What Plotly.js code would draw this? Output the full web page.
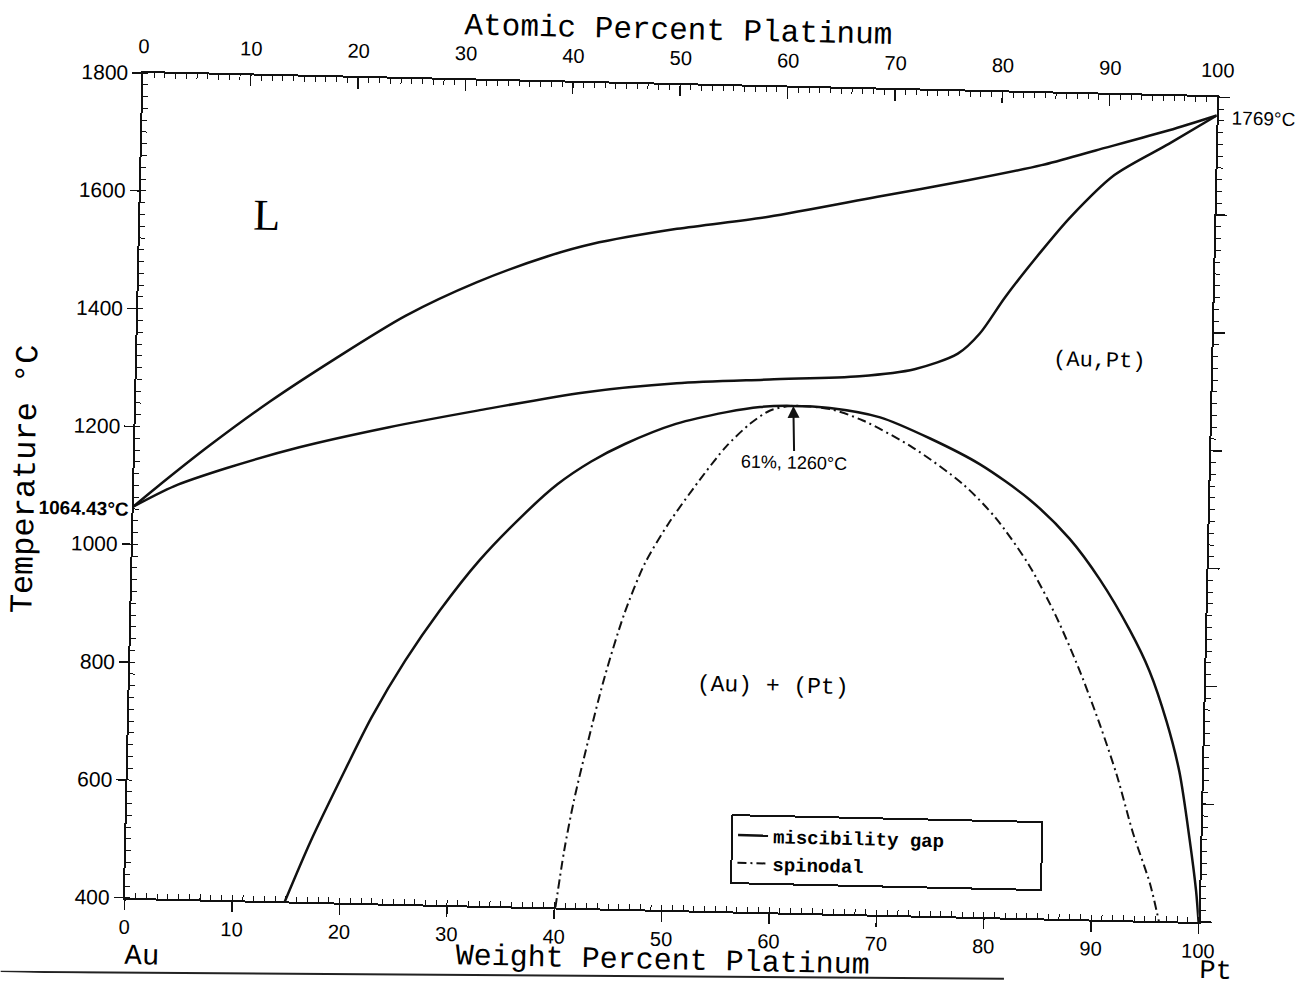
<!DOCTYPE html>
<html>
<head>
<meta charset="utf-8">
<script src="https://cdn.plot.ly/plotly-3.0.1.min.js"></script>
<style>
html,body{margin:0;padding:0;background:#fff;overflow:hidden;}
#chart{width:1307px;height:987px;transform-origin:671px 497px;transform:rotate(1.29deg);}
</style>
</head>
<body>
<div id="chart"></div>
<script>
// Au-Pt phase diagram, weight percent platinum vs temperature (°C)
const xRange = [0, 100];
const yRange = [400, 1800];

const liquidusWt = [0, 2.0, 6.9, 12.5, 18.4, 24.9, 31.5, 38.1, 42.1, 50.0, 58.5, 68.6, 77.1, 83.8, 88.8, 95.6, 100];
const liquidusT  = [1064.43, 1096, 1170, 1248, 1322, 1398, 1458, 1505, 1527, 1556, 1580, 1618, 1650, 1678, 1705, 1742, 1769];

const solidusWt = [0, 3.7, 8.6, 15.3, 23.5, 31.8, 41.7, 50.3, 58.9, 67.3, 72.4, 76.4, 78.4, 80.7, 84.0, 86.6, 90.6, 95.6, 100];
const solidusT  = [1064.43, 1100, 1133, 1171, 1208, 1240, 1275, 1294, 1304, 1313, 1327, 1355, 1390, 1453, 1533, 1591, 1664, 1719, 1769];

const gapWt = [14.9, 17.2, 20.2, 22.6, 25.6, 28.7, 32.3, 36.3, 39.4, 42.5, 45.6, 50.3, 55.0, 58.1, 61.0, 64.6, 69.3, 74.0, 78.7, 83.4, 87.2, 90.1, 93.0, 94.9, 96.6, 97.9, 99.0, 99.7, 100];
const gapT  = [400, 504, 624, 716, 813, 899, 986, 1065, 1118, 1158, 1189, 1225, 1247, 1257, 1260, 1258, 1244, 1210, 1168, 1110, 1045, 977, 892, 824, 739, 654, 539, 453, 400];

const spinodalWt = [40.1, 40.8, 41.6, 42.8, 44.2, 45.9, 47.7, 49.8, 52.6, 55.0, 57.2, 59.0, 61.0, 64.6, 67.7, 72.4, 77.2, 80.3, 83.5, 86.1, 88.4, 90.4, 92.1, 93.7, 95.4, 96.3];
const spinodalT  = [400, 497, 582, 684, 793, 901, 987, 1055, 1130, 1188, 1228, 1251, 1260, 1256, 1238, 1194, 1133, 1077, 998, 913, 822, 731, 645, 549, 463, 400];

const criticalPoint = {wt: 61.2, T: 1260, label: '61%, 1260°C'};
const auMelt = {T: 1064.43, label: '1064.43°C'};
const ptMelt = {T: 1769, label: '1769°C'};

const mono = 'Liberation Mono, Courier New, monospace';
const sans = 'Liberation Sans, Arial, sans-serif';
const ink = '#111';

const solid = {color: ink, width: 2.5, shape: 'spline', smoothing: 0.8};

const traces = [
  {x: liquidusWt, y: liquidusT, mode: 'lines', line: solid, name: 'liquidus', showlegend: false, hoverinfo: 'skip'},
  {x: solidusWt, y: solidusT, mode: 'lines', line: solid, name: 'solidus', showlegend: false, hoverinfo: 'skip'},
  {x: gapWt, y: gapT, mode: 'lines', line: solid, name: 'miscibility gap\u00a0\u00a0\u00a0\u00a0\u00a0\u00a0\u00a0\u00a0'},
  {x: spinodalWt, y: spinodalT, mode: 'lines', line: {color: ink, width: 2, shape: 'spline', smoothing: 0.8, dash: '9px,4px,2px,4px'}, name: 'spinodal'},
  {x: xRange, y: yRange, xaxis: 'x2', yaxis: 'y2', mode: 'markers', marker: {opacity: 0}, showlegend: false, hoverinfo: 'skip'}
];

const axisBase = {
  showline: true, linewidth: 2, linecolor: ink, showgrid: false, zeroline: false,
  tickcolor: ink, tickwidth: 1.5, fixedrange: true
};

function txt(xref, yref, x, y, text, font, extra) {
  return Object.assign({xref: xref, yref: yref, x: x, y: y, text: text, showarrow: false,
    xanchor: 'center', yanchor: 'middle', font: font}, extra || {});
}

const layout = {
  width: 1307, height: 987,
  margin: {l: 134, r: 99, t: 85, b: 77},
  paper_bgcolor: '#fff', plot_bgcolor: '#fff',
  showlegend: true,
  legend: {
    x: 0.563, xanchor: 'left', y: 0.118, yanchor: 'top',
    bgcolor: '#fff', bordercolor: ink, borderwidth: 2,
    font: {family: mono, size: 19, color: '#000', weight: 'bold'},
    tracegroupgap: 0
  },
  xaxis: Object.assign({}, axisBase, {
    range: xRange, tick0: 0, dtick: 10, ticks: 'outside', ticklen: 10,
    minor: {dtick: 1, ticks: 'inside', ticklen: 5, tickwidth: 1, tickcolor: ink},
    tickfont: {family: 'Liberation Sans Narrow, ' + sans, size: 20, color: '#000'}
  }),
  xaxis2: Object.assign({}, axisBase, {
    range: xRange, overlaying: 'x', side: 'top', anchor: 'y2',
    tick0: 0, dtick: 10, ticks: 'inside', ticklen: 11, ticklabelstandoff: 10,
    minor: {dtick: 1, ticks: 'inside', ticklen: 5, tickwidth: 1, tickcolor: ink},
    tickfont: {family: sans, size: 20, color: '#000'}
  }),
  yaxis: Object.assign({}, axisBase, {
    range: yRange, tick0: 400, dtick: 200, ticks: 'outside', ticklen: 9,
    minor: {dtick: 20, ticks: 'inside', ticklen: 5, tickwidth: 1, tickcolor: ink},
    tickfont: {family: sans, size: 21, color: '#000'}
  }),
  yaxis2: Object.assign({}, axisBase, {
    range: yRange, overlaying: 'y', side: 'right', anchor: 'x2',
    tick0: 400, dtick: 200, ticks: 'outside', ticklen: 11, showticklabels: false,
    minor: {dtick: 20, ticks: 'outside', ticklen: 5, tickwidth: 1, tickcolor: ink}
  }),
  annotations: [
    txt('paper', 'paper', 0.4976, 1.0663, 'Atomic Percent Platinum', {family: mono, size: 31, color: '#000'}),
    txt('paper', 'paper', 0.5014, -0.0615, 'Weight Percent Platinum', {family: mono, size: 30, color: '#000'}),
    txt('paper', 'paper', -0.101, 0.505, 'Temperature °C', {family: mono, size: 32, color: '#000'}, {textangle: -90}),
    txt('paper', 'paper', 0.0176, -0.071, 'Au', {family: mono, size: 29, color: '#000'}),
    txt('paper', 'paper', 1.017, -0.059, 'Pt', {family: mono, size: 27, color: '#000'}),
    txt('x', 'y', 11.8, 1563, 'L', {family: 'Liberation Serif, Times New Roman, serif', size: 44, color: '#000'}),
    txt('x', 'y', 89.6, 1347, '(Au,Pt)', {family: mono, size: 22, color: '#000'}),
    txt('x', 'y', 59.9, 783, '(Au) + (Pt)', {family: mono, size: 23, color: '#000'}),
    {xref: 'x', yref: 'y', x: criticalPoint.wt, y: criticalPoint.T, axref: 'x', ayref: 'y', ax: 61.4, ay: 1164,
     text: criticalPoint.label, showarrow: true, arrowhead: 2, arrowsize: 1.2, arrowwidth: 2, arrowcolor: ink, standoff: 0,
     font: {family: sans, size: 18, color: '#000'}},
    txt('paper', 'y', -0.003, 1060, auMelt.label, {family: sans, size: 19, color: '#000', weight: 'bold'}, {xanchor: 'right'}),
    txt('paper', 'y', 1.012, 1765, ptMelt.label, {family: sans, size: 19, color: '#000'}, {xanchor: 'left'})
  ],
  shapes: [
    {type: 'line', xref: 'paper', yref: 'paper', x0: -0.114, y0: -0.093, x1: 0.82, y1: -0.074,
     line: {color: '#222', width: 2}}
  ]
};

Plotly.newPlot('chart', traces, layout, {displayModeBar: false, staticPlot: true});
</script>
</body>
</html>
